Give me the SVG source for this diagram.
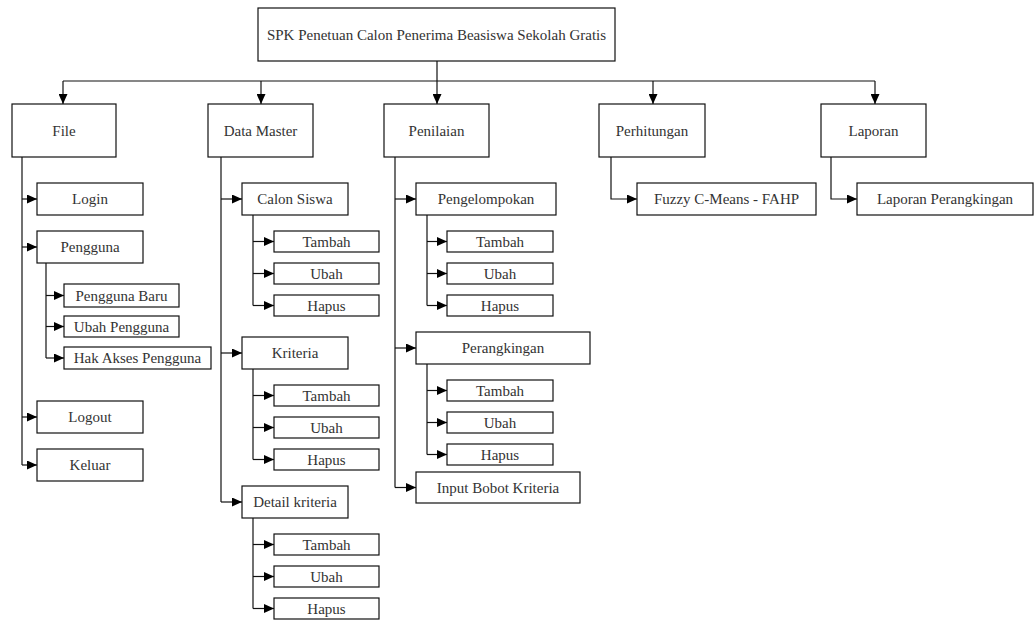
<svg xmlns="http://www.w3.org/2000/svg" width="1034" height="622" viewBox="0 0 1034 622">
  <style>
    .box { fill: #ffffff; stroke: #111111; stroke-width: 1.2; }
    .lbl { font-family: "Liberation Serif", "Times New Roman", serif; font-size: 15px; fill: #333333; text-anchor: middle; dominant-baseline: central; }
    .wire { fill: none; stroke: #111111; stroke-width: 1.2; }
    .arrow { fill: none; stroke: #111111; stroke-width: 1.2; marker-end: url(#head); }
  </style>
  <defs>
    <marker id="head" markerUnits="userSpaceOnUse" markerWidth="10" markerHeight="9" refX="10" refY="4.5" orient="auto">
      <path d="M0,0 L10,4.5 L0,9 Z" fill="#000000"/>
    </marker>
  </defs>
  <rect width="1034" height="622" fill="#ffffff"/>

  <!-- connectors -->
  <g id="connectors">
    <!-- root to menu bar -->
    <path class="wire" d="M437,61 V81 M63,81 H875"/>
    <path class="arrow" d="M63,81 V104"/>
    <path class="arrow" d="M261,81 V104"/>
    <path class="arrow" d="M437,81 V104"/>
    <path class="arrow" d="M653,81 V104"/>
    <path class="arrow" d="M875,81 V104"/>

    <!-- File -->
    <path class="wire" d="M22,157 V465"/>
    <path class="arrow" d="M22,199 H37"/>
    <path class="arrow" d="M22,247 H37"/>
    <path class="arrow" d="M22,417 H37"/>
    <path class="arrow" d="M22,465 H37"/>
    <path class="wire" d="M46,263 V358"/>
    <path class="arrow" d="M46,295.5 H64"/>
    <path class="arrow" d="M46,326.5 H64"/>
    <path class="arrow" d="M46,358 H64"/>

    <!-- Data Master -->
    <path class="wire" d="M221,157 V502"/>
    <path class="arrow" d="M221,199 H242"/>
    <path class="arrow" d="M221,353 H242"/>
    <path class="arrow" d="M221,502 H242"/>
    <path class="wire" d="M253,215 V305.5"/>
    <path class="arrow" d="M253,241.5 H274"/>
    <path class="arrow" d="M253,273.5 H274"/>
    <path class="arrow" d="M253,305.5 H274"/>
    <path class="wire" d="M253,369 V459.5"/>
    <path class="arrow" d="M253,395.5 H274"/>
    <path class="arrow" d="M253,427.5 H274"/>
    <path class="arrow" d="M253,459.5 H274"/>
    <path class="wire" d="M253,518 V608.5"/>
    <path class="arrow" d="M253,544.5 H274"/>
    <path class="arrow" d="M253,576.5 H274"/>
    <path class="arrow" d="M253,608.5 H274"/>

    <!-- Penilaian -->
    <path class="wire" d="M395,157 V487.5"/>
    <path class="arrow" d="M395,199 H416"/>
    <path class="arrow" d="M395,348 H416"/>
    <path class="arrow" d="M395,487.5 H416"/>
    <path class="wire" d="M427,215 V305.5"/>
    <path class="arrow" d="M427,241.5 H447"/>
    <path class="arrow" d="M427,273.5 H447"/>
    <path class="arrow" d="M427,305.5 H447"/>
    <path class="wire" d="M427,364 V454.5"/>
    <path class="arrow" d="M427,390.5 H447"/>
    <path class="arrow" d="M427,422.5 H447"/>
    <path class="arrow" d="M427,454.5 H447"/>

    <!-- Perhitungan -->
    <path class="arrow" d="M611,157 V199 H637"/>

    <!-- Laporan -->
    <path class="arrow" d="M831,157 V199 H857"/>
  </g>

  <!-- root -->
  <g id="root">
    <rect class="box" x="258" y="8" width="357" height="53"/>
    <text class="lbl" x="436.5" y="34.5">SPK Penetuan Calon Penerima Beasiswa Sekolah Gratis</text>
  </g>

  <!-- top menu -->
  <g id="file">
    <rect class="box" x="12" y="104" width="104" height="53"/>
    <text class="lbl" x="64" y="130.5">File</text>
  </g>
  <g id="data-master">
    <rect class="box" x="208" y="104" width="105" height="53"/>
    <text class="lbl" x="260.5" y="130.5">Data Master</text>
  </g>
  <g id="penilaian">
    <rect class="box" x="384" y="104" width="105" height="53"/>
    <text class="lbl" x="436.5" y="130.5">Penilaian</text>
  </g>
  <g id="perhitungan">
    <rect class="box" x="599" y="104" width="106" height="53"/>
    <text class="lbl" x="652" y="130.5">Perhitungan</text>
  </g>
  <g id="laporan">
    <rect class="box" x="821" y="104" width="105" height="53"/>
    <text class="lbl" x="873.5" y="130.5">Laporan</text>
  </g>

  <!-- File submenu -->
  <g id="login">
    <rect class="box" x="37" y="183" width="106" height="32"/>
    <text class="lbl" x="90" y="199">Login</text>
  </g>
  <g id="pengguna">
    <rect class="box" x="37" y="231" width="106" height="32"/>
    <text class="lbl" x="90" y="247">Pengguna</text>
  </g>
  <g id="pengguna-baru">
    <rect class="box" x="64" y="284" width="115" height="23"/>
    <text class="lbl" x="121.5" y="295.5">Pengguna Baru</text>
  </g>
  <g id="ubah-pengguna">
    <rect class="box" x="64" y="316" width="115" height="21"/>
    <text class="lbl" x="121.5" y="326.5">Ubah Pengguna</text>
  </g>
  <g id="hak-akses-pengguna">
    <rect class="box" x="64" y="347" width="147" height="22"/>
    <text class="lbl" x="137.5" y="358">Hak Akses Pengguna</text>
  </g>
  <g id="logout">
    <rect class="box" x="37" y="401" width="106" height="32"/>
    <text class="lbl" x="90" y="417">Logout</text>
  </g>
  <g id="keluar">
    <rect class="box" x="37" y="449" width="106" height="32"/>
    <text class="lbl" x="90" y="465">Keluar</text>
  </g>

  <!-- Data Master submenu -->
  <g id="calon-siswa">
    <rect class="box" x="242" y="183" width="106" height="32"/>
    <text class="lbl" x="295" y="199">Calon Siswa</text>
  </g>
  <g id="calon-siswa-tambah">
    <rect class="box" x="274" y="231" width="105" height="21"/>
    <text class="lbl" x="326.5" y="241.5">Tambah</text>
  </g>
  <g id="calon-siswa-ubah">
    <rect class="box" x="274" y="263" width="105" height="21"/>
    <text class="lbl" x="326.5" y="273.5">Ubah</text>
  </g>
  <g id="calon-siswa-hapus">
    <rect class="box" x="274" y="295" width="105" height="21"/>
    <text class="lbl" x="326.5" y="305.5">Hapus</text>
  </g>
  <g id="kriteria">
    <rect class="box" x="242" y="337" width="106" height="32"/>
    <text class="lbl" x="295" y="353">Kriteria</text>
  </g>
  <g id="kriteria-tambah">
    <rect class="box" x="274" y="385" width="105" height="21"/>
    <text class="lbl" x="326.5" y="395.5">Tambah</text>
  </g>
  <g id="kriteria-ubah">
    <rect class="box" x="274" y="417" width="105" height="21"/>
    <text class="lbl" x="326.5" y="427.5">Ubah</text>
  </g>
  <g id="kriteria-hapus">
    <rect class="box" x="274" y="449" width="105" height="21"/>
    <text class="lbl" x="326.5" y="459.5">Hapus</text>
  </g>
  <g id="detail-kriteria">
    <rect class="box" x="242" y="486" width="106" height="32"/>
    <text class="lbl" x="295" y="502">Detail kriteria</text>
  </g>
  <g id="detail-kriteria-tambah">
    <rect class="box" x="274" y="534" width="105" height="21"/>
    <text class="lbl" x="326.5" y="544.5">Tambah</text>
  </g>
  <g id="detail-kriteria-ubah">
    <rect class="box" x="274" y="566" width="105" height="21"/>
    <text class="lbl" x="326.5" y="576.5">Ubah</text>
  </g>
  <g id="detail-kriteria-hapus">
    <rect class="box" x="274" y="598" width="105" height="21"/>
    <text class="lbl" x="326.5" y="608.5">Hapus</text>
  </g>

  <!-- Penilaian submenu -->
  <g id="pengelompokan">
    <rect class="box" x="416" y="183" width="140" height="32"/>
    <text class="lbl" x="486" y="199">Pengelompokan</text>
  </g>
  <g id="pengelompokan-tambah">
    <rect class="box" x="447" y="231" width="106" height="21"/>
    <text class="lbl" x="500" y="241.5">Tambah</text>
  </g>
  <g id="pengelompokan-ubah">
    <rect class="box" x="447" y="263" width="106" height="21"/>
    <text class="lbl" x="500" y="273.5">Ubah</text>
  </g>
  <g id="pengelompokan-hapus">
    <rect class="box" x="447" y="295" width="106" height="21"/>
    <text class="lbl" x="500" y="305.5">Hapus</text>
  </g>
  <g id="perangkingan">
    <rect class="box" x="416" y="332" width="174" height="32"/>
    <text class="lbl" x="503" y="348">Perangkingan</text>
  </g>
  <g id="perangkingan-tambah">
    <rect class="box" x="447" y="380" width="106" height="21"/>
    <text class="lbl" x="500" y="390.5">Tambah</text>
  </g>
  <g id="perangkingan-ubah">
    <rect class="box" x="447" y="412" width="106" height="21"/>
    <text class="lbl" x="500" y="422.5">Ubah</text>
  </g>
  <g id="perangkingan-hapus">
    <rect class="box" x="447" y="444" width="106" height="21"/>
    <text class="lbl" x="500" y="454.5">Hapus</text>
  </g>
  <g id="input-bobot-kriteria">
    <rect class="box" x="416" y="472" width="164" height="31"/>
    <text class="lbl" x="498" y="487.5">Input Bobot Kriteria</text>
  </g>

  <!-- Perhitungan submenu -->
  <g id="fuzzy-cmeans-fahp">
    <rect class="box" x="637" y="183" width="179" height="32"/>
    <text class="lbl" x="726.5" y="199">Fuzzy C-Means - FAHP</text>
  </g>

  <!-- Laporan submenu -->
  <g id="laporan-perangkingan">
    <rect class="box" x="857" y="183" width="176" height="32"/>
    <text class="lbl" x="945" y="199">Laporan Perangkingan</text>
  </g>
</svg>
